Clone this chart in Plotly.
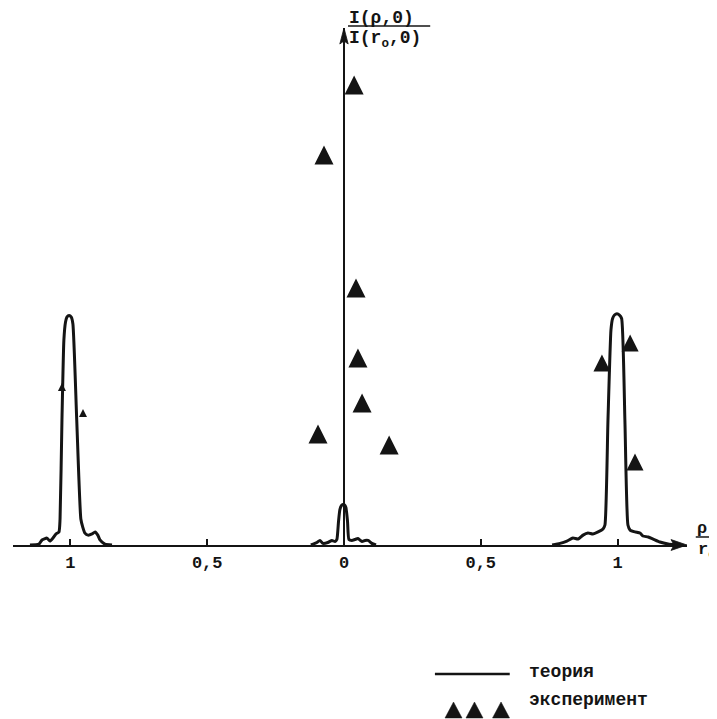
import plotly.graph_objects as go

# ---- data (x = rho/r0, y = I(rho,0)/I(r0,0)) ----
left_x = [-1.148, -1.115, -1.104, -1.086, -1.075, -1.064, -1.053, -1.042, -1.038, -1.031, -1.024,
          -1.018, -1.013, -1.005, -0.997, -0.991, -0.977, -0.962, -0.955, -0.947, -0.936, -0.921,
          -0.910, -0.900, -0.892, -0.874, -0.848]
left_y = [0.0, 0.004, 0.022, 0.030, 0.017, 0.030, 0.048, 0.057, 0.113, 0.544, 0.891,
          0.970, 0.991, 0.998, 0.991, 0.961, 0.544, 0.113, 0.078, 0.052, 0.043, 0.048,
          0.057, 0.043, 0.022, 0.004, 0.0]

center_x = [-0.121, -0.099, -0.088, -0.077, -0.059, -0.044, -0.033, -0.026, -0.020, -0.015, -0.009,
            -0.004, 0.002, 0.007, 0.013, 0.018, 0.029, 0.040, 0.051, 0.066, 0.077, 0.088, 0.102, 0.117]
center_y = [0.0, 0.011, 0.020, 0.007, 0.011, 0.020, 0.015, 0.024, 0.102, 0.154, 0.172,
            0.176, 0.174, 0.163, 0.102, 0.024, 0.020, 0.024, 0.028, 0.015, 0.020, 0.020, 0.007, 0.0]

right_x = [0.761, 0.790, 0.815, 0.837, 0.856, 0.874, 0.892, 0.910, 0.929, 0.947, 0.954, 0.965, 0.976,
           0.982, 0.989, 0.998, 1.007, 1.015, 1.027, 1.038, 1.046, 1.064, 1.082, 1.093, 1.112,
           1.130, 1.155, 1.185, 1.210]
right_y = [0.0, 0.007, 0.017, 0.030, 0.026, 0.043, 0.052, 0.048, 0.057, 0.070, 0.087, 0.540, 0.935,
           0.985, 1.000, 1.005, 1.000, 0.985, 0.540, 0.087, 0.065, 0.057, 0.052, 0.039, 0.035,
           0.026, 0.013, 0.004, 0.0]

exp_x = [0.037, -0.073, 0.044, 0.051, 0.066, -0.095, 0.165, -1.031, -0.954, 0.943, 1.046, 1.064]
exp_y = [2.000, 1.696, 1.117, 0.813, 0.617, 0.483, 0.435, 0.687, 0.574, 0.791, 0.878, 0.361]
exp_size = [19, 19, 19, 19, 19, 19, 19, 8, 8, 17, 17, 17]

tick_vals = [-1, -0.5, 0, 0.5, 1]
tick_text = ["1", "0,5", "0", "0,5", "1"]

X_RANGE = [-1.210, 1.254]
Y_RANGE = [0, 2.248]

INK = "#141414"
MONO = "Liberation Mono, Courier New, monospace"

theory_x = left_x + [None] + center_x + [None] + right_x
theory_y = left_y + [None] + center_y + [None] + right_y

fig = go.Figure()
fig.add_trace(go.Scatter(x=theory_x, y=theory_y, mode="lines",
                         line=dict(color=INK, width=3, shape="spline", smoothing=0.5),
                         connectgaps=False, showlegend=False, hoverinfo="skip"))
fig.add_trace(go.Scatter(x=exp_x, y=exp_y, mode="markers",
                         marker=dict(symbol="arrow-down", angle=180, opacity=1,
                                     size=exp_size, standoff=[s / 2 for s in exp_size],
                                     color=INK, line=dict(width=0)),
                         cliponaxis=False, showlegend=False, hoverinfo="skip"))

annotations = [
    # y label fraction
    dict(x=0.495, y=1.0184, xref="paper", yref="paper", xanchor="left", yanchor="middle",
         text="I(ρ,0)", showarrow=False, font=dict(family=MONO, size=18, color=INK, weight="bold")),
    dict(x=0.495, y=0.9778, xref="paper", yref="paper", xanchor="left", yanchor="middle",
         text="I(r<sub>o</sub>,0)", showarrow=False, font=dict(family=MONO, size=18, color=INK, weight="bold")),
    # x label fraction
    dict(x=1.0223, y=0.031, xref="paper", yref="paper", xanchor="center", yanchor="middle",
         text="ρ", showarrow=False, font=dict(family=MONO, size=17, color=INK, weight="bold")),
    dict(x=1.0140, y=-0.012, xref="paper", yref="paper", xanchor="left", yanchor="middle",
         text="r<sub>o</sub>", showarrow=False, font=dict(family=MONO, size=17, color=INK, weight="bold")),
    # legend texts
    dict(x=0.762, y=-0.2456, xref="paper", yref="paper", xanchor="left", yanchor="middle",
         text="теория", showarrow=False, font=dict(family=MONO, size=18, color=INK, weight="bold")),
    dict(x=0.762, y=-0.2998, xref="paper", yref="paper", xanchor="left", yanchor="middle",
         text="эксперимент", showarrow=False, font=dict(family=MONO, size=18, color=INK, weight="bold")),
]

Y_AXIS_POS = 0.4911  # paper x of rho = 0
shapes = [
    # fraction bars
    dict(type="line", xref="paper", yref="paper", x0=0.497, x1=0.619, y0=1.004, y1=1.004,
         line=dict(color=INK, width=1.6)),
    dict(type="line", xref="paper", yref="paper", x0=1.013, x1=1.05, y0=0.0155, y1=0.0155,
         line=dict(color=INK, width=1.5)),
    # legend line
    dict(type="line", xref="paper", yref="paper", x0=0.626, x1=0.737, y0=-0.2495, y1=-0.2495,
         line=dict(color=INK, width=2.5)),
    # arrow head of vertical axis
    dict(type="path", xref="paper", yref="paper",
         path=f"M {Y_AXIS_POS},1.0 L {Y_AXIS_POS + 0.0062},0.969 L {Y_AXIS_POS},0.975 "
              f"L {Y_AXIS_POS - 0.0062},0.969 Z",
         fillcolor=INK, line=dict(color=INK, width=0.8)),
    # arrow head of horizontal axis
    dict(type="path", xref="paper", yref="paper",
         path="M 1.0,0 L 0.9763,0.0105 L 0.9808,0 L 0.9763,-0.0105 Z",
         fillcolor=INK, line=dict(color=INK, width=0.8)),
]
# legend key: three filled triangles
half_w = 8.5 / 674
for cx in [0.6536, 0.6847, 0.7241]:
    shapes.append(dict(type="path", xref="paper", yref="paper",
                       path=f"M {cx - half_w},-0.3346 L {cx + half_w},-0.3346 L {cx},-0.3037 Z",
                       fillcolor=INK, line=dict(color=INK, width=0.5)))

fig.update_layout(
    width=709, height=711,
    margin=dict(l=5, r=30, t=20, b=174),
    paper_bgcolor="white", plot_bgcolor="white",
    showlegend=False,
    annotations=annotations, shapes=shapes,
    xaxis=dict(range=X_RANGE, showgrid=False, zeroline=False, showline=True, linewidth=2,
               linecolor=INK, ticks="inside", ticklen=6, tickwidth=1.5, tickcolor=INK,
               tickvals=tick_vals, ticktext=tick_text, ticklabelstandoff=1,
               tickfont=dict(family=MONO, size=17, color=INK, weight="bold"), fixedrange=True),
    yaxis=dict(range=Y_RANGE, anchor="free", position=Y_AXIS_POS, showline=True, linewidth=1.5,
               linecolor=INK, showgrid=False, zeroline=False, showticklabels=False, ticks="",
               fixedrange=True),
)

fig.write_html("out.html")
